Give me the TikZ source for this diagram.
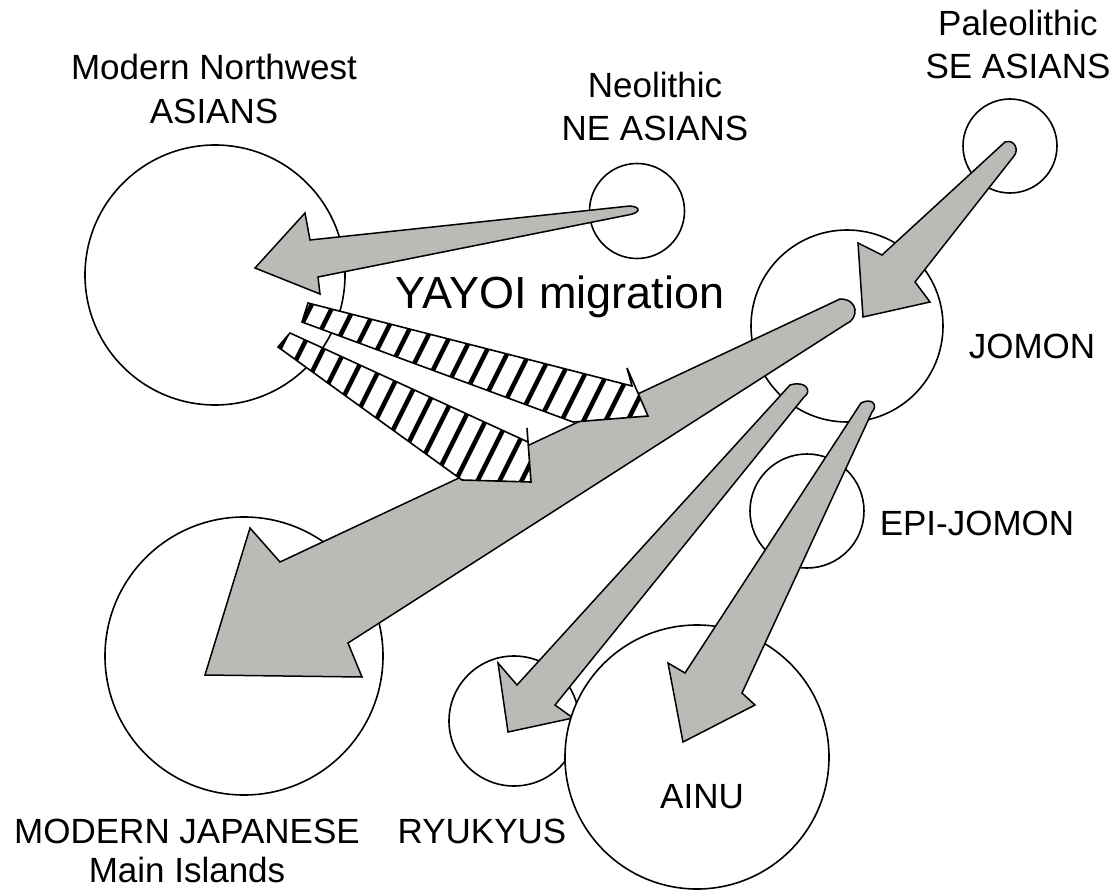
\documentclass[tikz,border=0pt]{standalone}
\usepackage{fontspec}
\setmainfont{Liberation Sans}
\definecolor{agrey}{RGB}{186,187,183}
\begin{document}
\begin{tikzpicture}[x=1pt,y=-1pt,
  circ/.style={circle, draw=black, line width=1.6pt, fill=white, inner sep=0pt},
  garrow/.style={draw=black, line width=1.5pt, fill=agrey, line join=miter, miter limit=6},
  harrow/.style={draw=black, line width=1.6pt, line join=miter, miter limit=6},
  hatchline/.style={line width=4.5pt},
  lbl/.style={font=\fontsize{35}{40}\selectfont, anchor=base, inner sep=0pt},
  biglbl/.style={font=\fontsize{45}{50}\selectfont, anchor=base, inner sep=0pt},
]
\useasboundingbox (0,0) rectangle (1112,891);
\fill[white] (0,0) rectangle (1112,891);

% circles under the arrows
\node[circ, minimum size=260pt] (nw) at (215,275) {};
\node[circ, minimum size=95pt] (ne) at (637,211) {};
\node[circ, minimum size=94pt] (se) at (1010,146) {};
\node[circ, minimum size=192pt] (jomon) at (847,326) {};
\node[circ, minimum size=114pt] (epi) at (807,511) {};
\node[circ, minimum size=278pt] (mj) at (244,656) {};
\node[circ, minimum size=130pt] (ryu) at (514,721) {};

% grey arrows
% Neolithic NE -> Modern NW
\draw[garrow] (628,215) .. controls (640,213) and (642,207) .. (630,206)
  -- (310,240) -- (305,213) -- (255,268) -- (320,294) -- (318,277) -- cycle;
% Paleolithic SE -> Jomon
\draw[garrow] (1014,156) .. controls (1019,150) and (1015,139) .. (1005,142)
  -- (882,255) -- (858,243) -- (863,317) -- (930,302) -- (915,282) -- cycle;
% Jomon -> Modern Japanese
\draw[garrow] (846,324) .. controls (859,319) and (859,299) .. (840,299)
  -- (280,562) -- (250,528) -- (205,675) -- (362,677) -- (348,643) -- cycle;
% Jomon -> Ryukyus
\draw[garrow] (804,397) .. controls (812,392) and (807,380) .. (790,385)
  -- (517,685) -- (498,663) -- (508,732) -- (573,718) -- (555,705) -- cycle;

% hatched arrows (YAYOI migration)
\begin{scope}
  \clip (308,303) -- (632,386) -- (627,368) -- (648,416) -- (573,422) -- (302,322) -- cycle;
  \fill[white] (250,280) rectangle (700,450);
  \foreach \k in {0,...,24} \draw[hatchline] ({160+22*\k},520) -- ++(250,-500);
\end{scope}
\draw[harrow] (308,303) -- (632,386) -- (627,368) -- (648,416) -- (573,422) -- (302,322) -- cycle;
\begin{scope}
  \clip (290,333) -- (528,442) -- (527,428) -- (531,482) -- (462,480) -- (278,347) -- cycle;
  \fill[white] (250,320) rectangle (560,500);
  \foreach \k in {0,...,24} \draw[hatchline] ({150+22*\k},520) -- ++(250,-500);
\end{scope}
\draw[harrow] (290,333) -- (528,442) -- (527,428) -- (531,482) -- (462,480) -- (278,347) -- cycle;

% Ainu circle over the Ryukyu arrow
\node[circ, minimum size=264pt] (ainu) at (697,757) {};
% Jomon -> Ainu
\draw[garrow] (872,412) .. controls (878,406) and (873,397) .. (861,403)
  -- (685,673) -- (668,663) -- (683,742) -- (755,705) -- (742,693) -- cycle;

% labels
\node[lbl] (l1) at (214,80) {Modern Northwest};
\node[lbl] (l2) at (214,124) {ASIANS};
\node[lbl] (l3) at (655,98) {Neolithic};
\node[lbl] (l4) at (655,140) {NE ASIANS};
\node[lbl] (l5) at (1018,36) {Paleolithic};
\node[lbl] (l6) at (1018,78) {SE ASIANS};
\node[biglbl] (l7) at (560,308) {YAYOI migration};
\node[lbl] (l8) at (1032,358) {JOMON};
\node[lbl] (l9) at (977,535) {EPI-JOMON};
\node[lbl] (l10) at (187,843) {MODERN JAPANESE};
\node[lbl] (l11) at (187,882) {Main Islands};
\node[lbl] (l12) at (482,843) {RYUKYUS};
\node[lbl] (l13) at (702,808) {AINU};
\end{tikzpicture}
\end{document}
